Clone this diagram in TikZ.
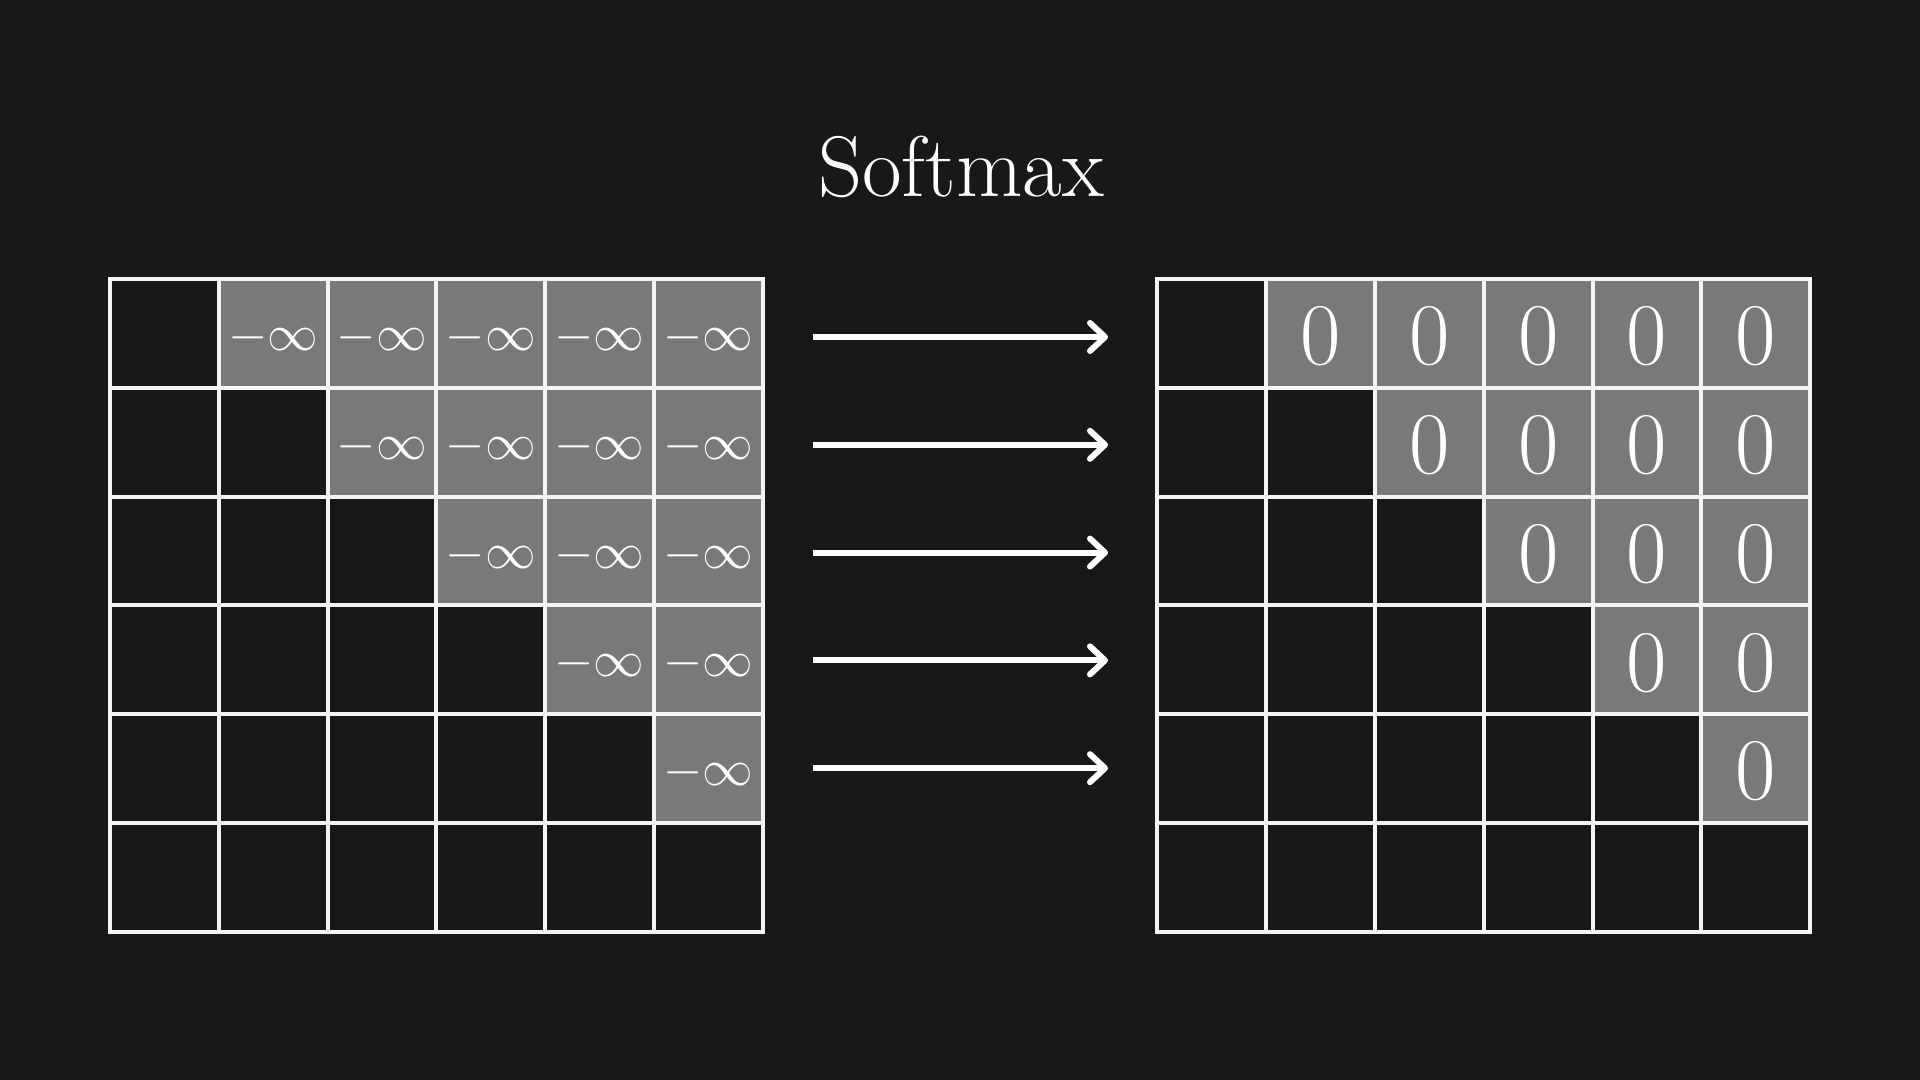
\documentclass[tikz,border=0pt]{standalone}
\usetikzlibrary{arrows.meta}
\definecolor{bgc}{HTML}{17181A}
\definecolor{cellgrey}{HTML}{7A7979}
\definecolor{linec}{HTML}{F4F4F4}
\begin{document}
\begin{tikzpicture}[x=0.01cm,y=-0.01cm,
  cellbox/.style={draw=linec,line width=0.04cm,minimum size=1.088cm,inner sep=0pt,text=white,anchor=center},
  blackcell/.style={cellbox,fill=bgc},
  greycell/.style={cellbox,fill=cellgrey},
  inftext/.style={font=\fontsize{14}{16}\selectfont},
  zerotext/.style={font=\fontsize{25}{28}\selectfont},
  infshift/.style={yshift=-0.045cm},
  zeroshift/.style={yshift=-0.03cm},
  arr/.style={draw=white,line width=0.06cm,-{Straight Barb[length=0.15cm,width=0.28cm,round]}},
  titletext/.style={text=white,font=\fontsize{24.5}{28}\selectfont,inner sep=0pt}]
\fill[bgc] (0,0) rectangle (1920,1080);
\useasboundingbox (0,0) rectangle (1920,1080);
\node[titletext,anchor=base] (title) at (961,197) {Softmax};
\foreach \r in {0,...,5}{
  \foreach \c in {0,...,5}{
    \pgfmathtruncatemacro{\up}{\c>\r ? 1 : 0}
    \ifnum\up=1
      \node[greycell] (L-\r-\c) at ({110+108.8*(\c+0.5)},{279+108.8*(\r+0.5)}) {};
      \node[inftext,text=white,infshift] (Lt-\r-\c) at (L-\r-\c.center) {$-\infty$};
      \node[greycell] (R-\r-\c) at ({1157.5+108.8*(\c+0.5)},{279+108.8*(\r+0.5)}) {};
      \node[zerotext,text=white,zeroshift] (Rt-\r-\c) at (R-\r-\c.center) {0};
    \else
      \node[blackcell] (L-\r-\c) at ({110+108.8*(\c+0.5)},{279+108.8*(\r+0.5)}) {};
      \node[blackcell] (R-\r-\c) at ({1157.5+108.8*(\c+0.5)},{279+108.8*(\r+0.5)}) {};
    \fi
  }
}
\foreach \r in {0,...,4}{
  \coordinate (as\r) at (813,{337+107.8*\r});
  \coordinate (ae\r) at (1108,{337+107.8*\r});
  \draw[arr] (as\r) -- (ae\r);
}
\end{tikzpicture}
\end{document}
